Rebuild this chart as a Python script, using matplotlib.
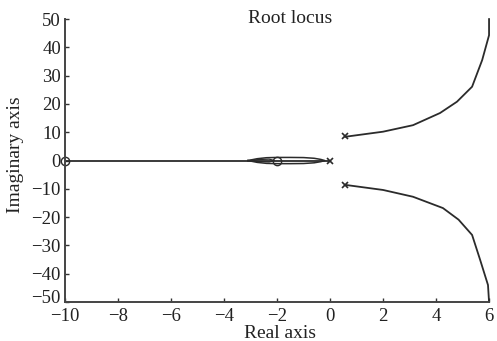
"""Root locus plot: real-axis segment, small breakaway loop near -2, complex branches."""

import matplotlib
matplotlib.use("Agg")
import matplotlib.pyplot as plt
import matplotlib.transforms as mtransforms

plt.rcParams["font.family"] = ["Liberation Serif", "DejaVu Serif"]
plt.rcParams["font.size"] = 14

# open-loop poles / zeros
pole_re = [0.0, 0.57, 0.57]
pole_im = [0.0, 8.5, -8.5]
zero_re = [-10.0, -2.0]
zero_im = [0.0, 0.0]

# branch along the real axis
real_re = [-10.0, -0.05]
real_im = [0.0, 0.0]

# small loop around the zero at -2 (outer and inner traces)
loop_re = [-3.1, -2.75, -2.4, -2.0, -1.5, -1.0, -0.6, -0.35, -0.2,
           -0.35, -0.6, -1.0, -1.5, -2.0, -2.4, -2.75, -3.1]
loop_im = [0.0, 0.65, 1.0, 1.1, 1.1, 1.05, 0.8, 0.4, 0.0,
           -0.4, -0.8, -1.05, -1.1, -1.1, -1.0, -0.65, 0.0]
inner_re = [-3.1, -2.7, -2.3, -2.1, -2.3, -2.7, -3.1]
inner_im = [0.0, 0.35, 0.5, 0.0, -0.5, -0.35, 0.0]

# complex branches heading to infinity
upper_re = [0.57, 2.0, 3.13, 4.15, 4.79, 5.36, 5.74, 6.0, 6.0]
upper_im = [8.4, 10.2, 12.5, 16.8, 20.8, 26.1, 35.5, 44.3, 50.0]
lower_re = [0.57, 2.0, 3.13, 4.26, 4.85, 5.36, 5.66, 5.96, 6.0]
lower_im = [-8.6, -10.4, -12.8, -16.8, -20.9, -26.3, -35.0, -44.0, -50.0]

xticks = [-10, -8, -6, -4, -2, 0, 2, 4, 6]
yticks = [-50, -40, -30, -20, -10, 0, 10, 20, 30, 40, 50]

LC = "#2b2b2b"

fig = plt.figure(figsize=(4.97, 3.41), dpi=100)
ax = fig.add_axes([0.131, 0.1144, 0.853, 0.8296])

ax.plot(real_re, real_im, color=LC, lw=1.3)
ax.plot(loop_re, loop_im, color=LC, lw=1.1)
ax.plot(inner_re, inner_im, color=LC, lw=0.9)
ax.plot(upper_re, upper_im, color=LC, lw=1.3, clip_on=False)
ax.plot(lower_re, lower_im, color=LC, lw=1.3, clip_on=False)
ax.plot(pole_re, pole_im, "x", color=LC, ms=4, mew=1.2, clip_on=False)
ax.plot(zero_re, zero_im, "o", mfc="none", mec=LC, ms=6, mew=1.0, clip_on=False)

ax.set_xlim(-10, 6)
ax.set_ylim(-50, 50)
ax.set_xticks(xticks)
ax.set_yticks(yticks)
ax.tick_params(direction="in", length=3, width=1, colors="#333333",
               labelcolor="#222222", labelsize=13.5)
ax.tick_params(axis="x", pad=4)
ax.tick_params(axis="y", pad=3)

# lift the bottom y label a little so it clears the -10 x label
lift = mtransforms.ScaledTranslation(0, 5 / 100, fig.dpi_scale_trans)
bottom_lbl = ax.get_yticklabels()[0]
bottom_lbl.set_transform(bottom_lbl.get_transform() + lift)

for s in ("top", "right"):
    ax.spines[s].set_visible(False)
for s in ("left", "bottom"):
    ax.spines[s].set_linewidth(1.4)
    ax.spines[s].set_color("#444444")

ax.set_xlabel("Real axis", color="#222222")
ax.xaxis.set_label_coords(0.507, -0.08)
ax.set_ylabel("Imaginary axis", color="#222222")
ax.yaxis.set_label_coords(-0.097, 0.52)
ax.text(0.53, 0.986, "Root locus", transform=ax.transAxes, ha="center",
        va="baseline", color="#222222")

fig.savefig("out.png", dpi=100)
